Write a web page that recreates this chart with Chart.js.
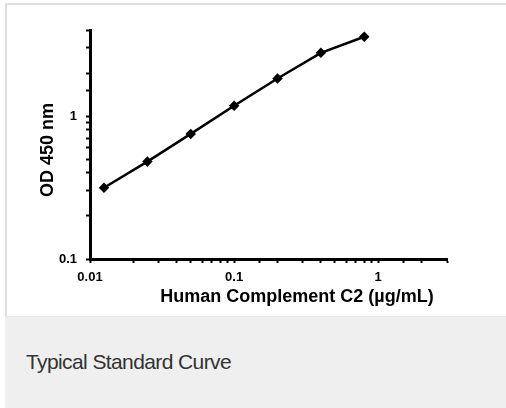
<!DOCTYPE html>
<html>
<head>
<meta charset="utf-8">
<script src="https://cdn.jsdelivr.net/npm/chart.js@4"></script>
<style>
  html, body { margin: 0; padding: 0; background: #fff; }
  body { width: 506px; height: 408px; position: relative; overflow: hidden; font-family: "Liberation Sans", Arial, sans-serif; }
  .frame { position: absolute; left: 5px; top: 3px; width: 510px; height: 320px; border-left: 2px solid #dedede; border-top: 2px solid #dedede; box-sizing: border-box; }
  .footer { position: absolute; left: 5px; top: 316px; width: 501px; height: 92px; background: #eeefee; border-top: 1px solid #e6e6e6; box-sizing: border-box; }
  .footer span { position: absolute; left: 21px; top: 33px; font-size: 21px; letter-spacing: -0.6px; color: #333; }
  .wrap { position: absolute; left: 0; top: 0; width: 506px; height: 316px; }
</style>
</head>
<body>
<div class="frame"></div>
<div class="footer"><span>Typical Standard Curve</span></div>
<div class="wrap"><canvas id="chart"></canvas></div>
<script>
// ===== Data =====
const concentrations = [0.0125, 0.025, 0.05, 0.1, 0.2, 0.4, 0.8];
const odValues = [0.315, 0.48, 0.75, 1.18, 1.83, 2.77, 3.59];
const xTitle = "Human Complement C2 (\u00b5g/mL)";
const yTitle = "OD 450 nm";

const isDecade = v => Math.abs(Math.log10(v) - Math.round(Math.log10(v))) < 1e-9;

Chart.defaults.font.family = "Liberation Sans";
Chart.defaults.font.weight = "bold";
Chart.defaults.color = "#000";

// axis titles placed like the original figure
const axisTitles = {
  id: "axisTitles",
  afterDraw(chart) {
    const { ctx, chartArea } = chart;
    ctx.save();
    ctx.fillStyle = "#000";
    ctx.font = "bold 18px 'Liberation Sans'";
    ctx.textAlign = "center";
    ctx.textBaseline = "middle";
    ctx.fillText(xTitle, chartArea.right - 150, 297);
    ctx.translate(48, 150);
    ctx.rotate(-Math.PI / 2);
    ctx.fillText(yTitle, 0, 0);
    ctx.restore();
  }
};

new Chart(document.getElementById("chart"), {
  type: "line",
  data: {
    datasets: [{
      data: concentrations.map((x, i) => ({ x, y: odValues[i] })),
      borderColor: "#000",
      backgroundColor: "#000",
      borderWidth: 2.5,
      pointStyle: "rectRot",
      pointRadius: 3.5,
      tension: 0
    }]
  },
  options: {
    responsive: true,
    maintainAspectRatio: false,
    animation: false,
    layout: { padding: { top: 30, right: 59, left: 40, bottom: 0 } },
    plugins: { legend: { display: false }, tooltip: { enabled: false } },
    scales: {
      x: {
        type: "logarithmic",
        min: 0.01,
        max: 3,
        afterFit: s => { s.height = 57; },
        border: { display: true, color: "#000", width: 3 },
        grid: { drawOnChartArea: false, drawTicks: true, tickLength: 4, tickColor: "#000", tickWidth: 2 },
        ticks: {
          autoSkip: false, maxRotation: 0, padding: 7, color: "#000",
          major: { enabled: false },
          font: { size: 13, weight: "bold" },
          callback: v => isDecade(v) ? String(v) : ""
        }
      },
      y: {
        type: "logarithmic",
        min: 0.1,
        max: 4,
        afterFit: s => { s.width = 50; },
        border: { display: true, color: "#000", width: 3 },
        grid: { drawOnChartArea: false, drawTicks: true, tickLength: 4, tickColor: "#000", tickWidth: 2 },
        ticks: {
          autoSkip: false, padding: 9, color: "#000",
          major: { enabled: false },
          font: { size: 13, weight: "bold" },
          callback: v => isDecade(v) ? String(v) : ""
        }
      }
    }
  },
  plugins: [axisTitles]
});
</script>
</body>
</html>
